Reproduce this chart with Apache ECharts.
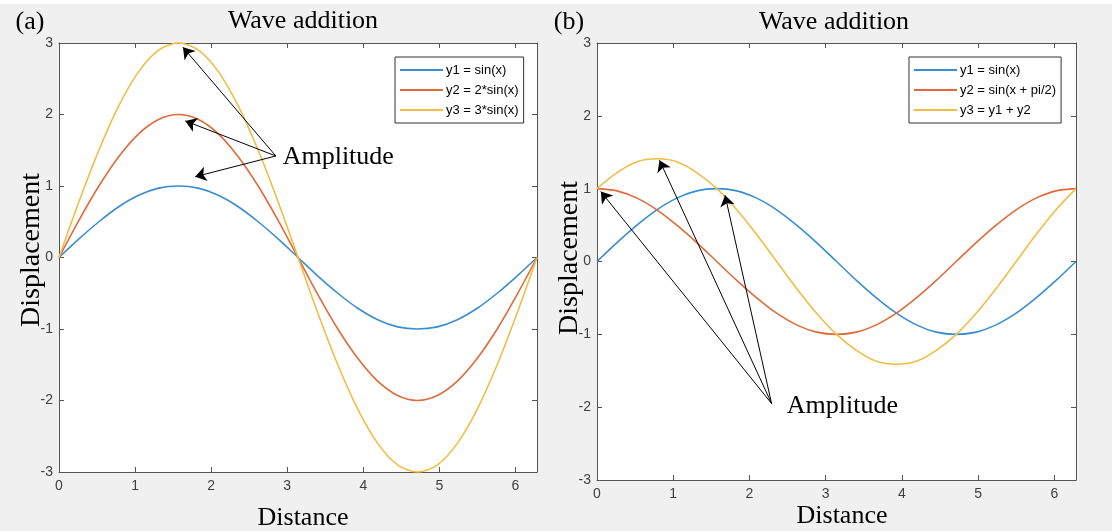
<!DOCTYPE html>
<html>
<head>
<meta charset="utf-8">
<script src="https://cdn.jsdelivr.net/npm/echarts@6/dist/echarts.min.js"></script>
<style>
html,body{margin:0;padding:0;background:#f0f0f0;}
#c{width:1112px;height:531px;}
</style>
</head>
<body>
<div id="c"></div>
<script>
// ---- data ----
const X = [0, 0.262, 0.524, 0.785, 1.047, 1.309, 1.571, 1.833, 2.094, 2.356, 2.618, 2.880, 3.142, 3.403, 3.665, 3.927, 4.189, 4.451, 4.712, 4.974, 5.236, 5.498, 5.760, 6.021, 6.283];
const A_Y1 = [0, 0.26, 0.5, 0.71, 0.87, 0.97, 1, 0.97, 0.87, 0.71, 0.5, 0.26, 0, -0.26, -0.5, -0.71, -0.87, -0.97, -1, -0.97, -0.87, -0.71, -0.5, -0.26, 0];
const A_Y2 = [0, 0.52, 1, 1.41, 1.73, 1.93, 2, 1.93, 1.73, 1.41, 1, 0.52, 0, -0.52, -1, -1.41, -1.73, -1.93, -2, -1.93, -1.73, -1.41, -1, -0.52, 0];
const A_Y3 = [0, 0.78, 1.5, 2.12, 2.6, 2.9, 3, 2.9, 2.6, 2.12, 1.5, 0.78, 0, -0.78, -1.5, -2.12, -2.6, -2.9, -3, -2.9, -2.6, -2.12, -1.5, -0.78, 0];
const B_Y1 = [0, 0.26, 0.5, 0.71, 0.87, 0.97, 1, 0.97, 0.87, 0.71, 0.5, 0.26, 0, -0.26, -0.5, -0.71, -0.87, -0.97, -1, -0.97, -0.87, -0.71, -0.5, -0.26, 0];
const B_Y2 = [1, 0.97, 0.87, 0.71, 0.5, 0.26, 0, -0.26, -0.5, -0.71, -0.87, -0.97, -1, -0.97, -0.87, -0.71, -0.5, -0.26, 0, 0.26, 0.5, 0.71, 0.87, 0.97, 1];
const B_Y3 = [1, 1.22, 1.37, 1.41, 1.37, 1.22, 1, 0.71, 0.37, 0, -0.37, -0.71, -1, -1.22, -1.37, -1.41, -1.37, -1.22, -1, -0.71, -0.37, 0, 0.37, 0.71, 1];
const A_NAMES = ['y1 = sin(x)', 'y2 = 2*sin(x)', 'y3 = 3*sin(x)'];
const B_NAMES = ['y1 = sin(x)', 'y2 = sin(x + pi/2)', 'y3 = y1 + y2'];
const X_TICKS = [0, 1, 2, 3, 4, 5, 6];
const Y_TICKS = [-3, -2, -1, 0, 1, 2, 3];
const X_MAX = 6.2832;
// annotation arrows: [fromX, fromY, toX, toY]
const A_ARROWS = [[2.85, 1.42, 1.63, 2.94], [2.85, 1.42, 1.66, 1.91], [2.85, 1.42, 1.79, 1.13]];
const A_LABEL = [2.94, 1.41];
const B_ARROWS = [[2.29, -1.95, 0.05, 0.96], [2.29, -1.95, 0.82, 1.39], [2.29, -1.95, 1.68, 0.91]];
const B_LABEL = [2.49, -1.98];

const COLORS = ['#3a8ed0', '#e06a3c', '#f0bd45'];
const SERIF = '"Liberation Serif", "Times New Roman", serif';
const SANS = 'Arial, "Liberation Sans", Helvetica, sans-serif';

const pairs = ys => X.map((x, i) => [x, ys[i]]);

function xAxis(grid, pos, labels) {
  return {
    type: 'value', gridIndex: grid, position: pos, min: 0, max: X_MAX, interval: 1,
    axisLine: {show: true, onZero: false, lineStyle: {color: '#555', width: 1}},
    axisTick: {show: true, inside: true, length: 5, lineStyle: {color: '#555'}},
    axisLabel: {show: labels, margin: 7, color: '#404040', fontSize: 14, fontFamily: SANS,
      formatter: v => X_TICKS.indexOf(v) >= 0 ? String(v) : ''},
    splitLine: {show: false}
  };
}
function yAxis(grid, pos, labels) {
  return {
    type: 'value', gridIndex: grid, position: pos, min: -3, max: 3, interval: 1,
    axisLine: {show: true, onZero: false, lineStyle: {color: '#555', width: 1}},
    axisTick: {show: true, inside: true, length: 5, lineStyle: {color: '#555'}},
    axisLabel: {show: labels, margin: 6, color: '#404040', fontSize: 14, fontFamily: SANS,
      formatter: v => Y_TICKS.indexOf(v) >= 0 ? String(v) : ''},
    splitLine: {show: false}
  };
}
function arrows(list) {
  return {
    silent: true, animation: false, symbol: ['none', 'arrow'], symbolSize: 11,
    lineStyle: {color: '#000', width: 1, type: 'solid'},
    label: {show: false},
    data: list.map(a => [{coord: [a[0], a[1]]}, {coord: [a[2], a[3]]}])
  };
}
function labelPoint(p) {
  return {
    silent: true, animation: false,
    data: [{coord: p, symbol: 'circle', symbolSize: 0,
      label: {show: true, position: 'right', distance: 0, formatter: 'Amplitude',
        color: '#000', fontSize: 26, fontFamily: SERIF}}]
  };
}
function line(name, ys, idx, color, extra) {
  return Object.assign({
    type: 'line', name: name, xAxisIndex: idx, yAxisIndex: idx, data: pairs(ys),
    smooth: 0.3, showSymbol: false, symbol: 'none', clip: false,
    lineStyle: {color: color, width: 1.6}, itemStyle: {color: color}, animation: false
  }, extra || {});
}

const legendBase = {
  orient: 'vertical', icon: 'rect', itemWidth: 43, itemHeight: 2, itemGap: 6,
  padding: [6, 5, 6, 5], backgroundColor: '#fff', borderColor: '#333', borderWidth: 1,
  textStyle: {fontSize: 13, fontFamily: SANS, color: '#000', lineHeight: 14, padding: [0, 0, 0, -2]},
  selectedMode: false
};

const chart = echarts.init(document.getElementById('c'), null, {renderer: 'canvas'});
chart.setOption({
  backgroundColor: '#f0f0f0',
  animation: false,
  grid: [
    {left: 59, top: 43, width: 478, height: 429, show: true, backgroundColor: '#fff', borderWidth: 0},
    {left: 597, top: 43, width: 479, height: 437, show: true, backgroundColor: '#fff', borderWidth: 0}
  ],
  xAxis: [xAxis(0, 'bottom', true), xAxis(1, 'bottom', true), xAxis(0, 'top', false), xAxis(1, 'top', false)],
  yAxis: [yAxis(0, 'left', true), yAxis(1, 'left', true), yAxis(0, 'right', false), yAxis(1, 'right', false)],
  legend: [
    Object.assign({}, legendBase, {left: 395, top: 57, data: A_NAMES.map(n => 'a:' + n),
      formatter: n => n.slice(2)}),
    Object.assign({}, legendBase, {left: 909, top: 57, data: B_NAMES.map(n => 'b:' + n),
      formatter: n => n.slice(2)})
  ],
  series: [
    line('a:' + A_NAMES[0], A_Y1, 0, COLORS[0], {markLine: arrows(A_ARROWS), markPoint: labelPoint(A_LABEL)}),
    line('a:' + A_NAMES[1], A_Y2, 0, COLORS[1]),
    line('a:' + A_NAMES[2], A_Y3, 0, COLORS[2]),
    line('b:' + B_NAMES[0], B_Y1, 1, COLORS[0], {markLine: arrows(B_ARROWS), markPoint: labelPoint(B_LABEL)}),
    line('b:' + B_NAMES[1], B_Y2, 1, COLORS[1]),
    line('b:' + B_NAMES[2], B_Y3, 1, COLORS[2])
  ],
  graphic: [
    {type: 'rect', left: 0, top: 0, shape: {width: 1112, height: 4}, style: {fill: '#fff'}, z: -1},
    {type: 'text', x: 30, y: 22, style: {text: '(a)', font: '26px ' + SERIF, fill: '#000', align: 'center', verticalAlign: 'middle'}},
    {type: 'text', x: 303, y: 21, style: {text: 'Wave addition', font: '26px ' + SERIF, fill: '#000', align: 'center', verticalAlign: 'middle'}},
    {type: 'text', x: 569, y: 22, style: {text: '(b)', font: '26px ' + SERIF, fill: '#000', align: 'center', verticalAlign: 'middle'}},
    {type: 'text', x: 834, y: 22, style: {text: 'Wave addition', font: '26px ' + SERIF, fill: '#000', align: 'center', verticalAlign: 'middle'}},
    {type: 'text', x: 32, y: 250, rotation: Math.PI / 2, style: {text: 'Displacement', font: '28px ' + SERIF, fill: '#000', align: 'center', verticalAlign: 'middle'}},
    {type: 'text', x: 570, y: 258, rotation: Math.PI / 2, style: {text: 'Displacement', font: '28px ' + SERIF, fill: '#000', align: 'center', verticalAlign: 'middle'}},
    {type: 'text', x: 303, y: 518, style: {text: 'Distance', font: '26px ' + SERIF, fill: '#000', align: 'center', verticalAlign: 'middle'}},
    {type: 'text', x: 842, y: 516, style: {text: 'Distance', font: '26px ' + SERIF, fill: '#000', align: 'center', verticalAlign: 'middle'}}
  ]
});
</script>
</body>
</html>
